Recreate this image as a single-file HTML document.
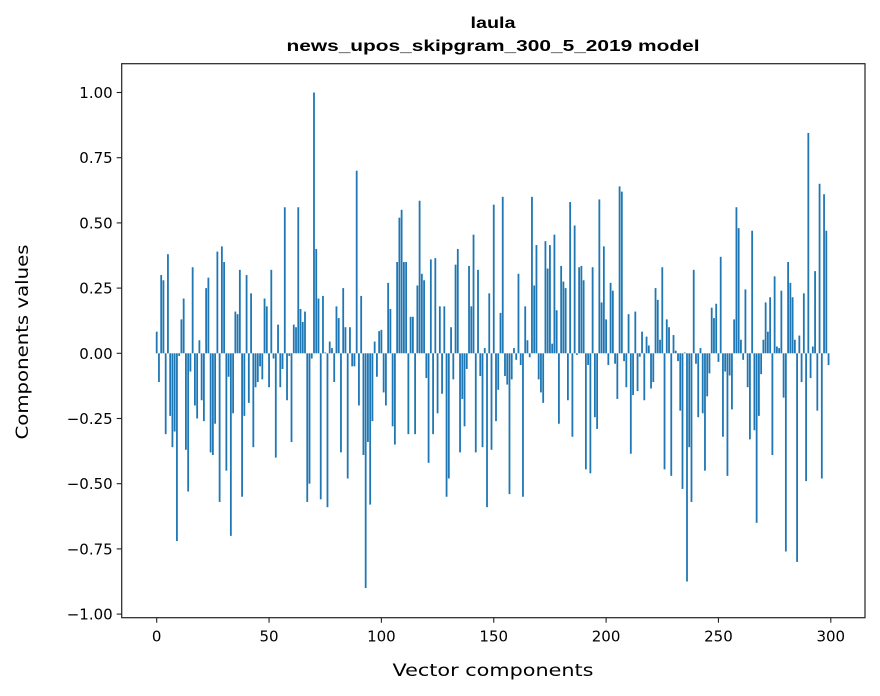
<!DOCTYPE html>
<html><head><meta charset="utf-8">
<style>
html,body{margin:0;padding:0;background:#fff;}
svg{display:block;font-family:"DejaVu Sans","Liberation Sans",sans-serif;}
</style></head>
<body>
<svg id="chart" width="880" height="696" viewBox="0 0 880 696" xmlns="http://www.w3.org/2000/svg">
<rect width="880" height="696" fill="#fff"/>
<text x="493" y="28" text-anchor="middle" font-size="16" font-weight="bold" font-family="Liberation Sans, sans-serif" textLength="45" lengthAdjust="spacingAndGlyphs">laula</text>
<text x="493" y="51" text-anchor="middle" font-size="16" font-weight="bold" font-family="Liberation Sans, sans-serif" textLength="413" lengthAdjust="spacingAndGlyphs">news_upos_skipgram_300_5_2019 model</text>
<g id="bars"></g>
<g id="axes"></g>
<text x="493" y="676" text-anchor="middle" font-size="17" textLength="201" lengthAdjust="spacingAndGlyphs">Vector components</text>
<text transform="translate(28,342) rotate(-90)" text-anchor="middle" font-size="17" textLength="195" lengthAdjust="spacingAndGlyphs">Components values</text>
</svg>
<script>
const values = [
0.083,-0.11,0.30,0.28,-0.31,0.38,-0.24,-0.36,-0.30,-0.72,-0.01,0.13,0.21,-0.37,-0.53,-0.07,0.33,-0.20,-0.25,0.05,
-0.18,-0.26,0.25,0.29,-0.38,-0.39,-0.27,0.39,-0.57,0.41,0.35,-0.45,-0.09,-0.70,-0.23,0.16,0.15,0.32,-0.55,-0.24,
0.30,-0.19,0.23,-0.36,-0.13,-0.11,-0.05,-0.10,0.21,0.18,-0.13,0.32,-0.02,-0.40,0.11,-0.13,-0.06,0.56,-0.18,-0.01,
-0.34,0.11,0.10,0.56,0.17,0.12,0.16,-0.57,-0.50,-0.02,1.00,0.40,0.21,-0.56,0.22,0.003,-0.59,0.045,0.02,-0.11,
0.18,0.135,-0.38,0.25,0.10,-0.48,0.10,-0.05,-0.05,0.70,-0.20,0.22,-0.39,-0.90,-0.34,-0.58,-0.26,0.045,-0.09,0.085,
0.09,-0.15,-0.20,0.27,0.17,-0.28,-0.35,0.35,0.52,0.55,0.35,0.35,-0.31,0.14,0.14,-0.31,0.26,0.585,0.305,0.28,
-0.095,-0.42,0.36,-0.31,0.365,-0.23,0.18,-0.155,0.18,-0.55,-0.48,0.10,-0.10,0.34,0.40,-0.38,-0.175,-0.28,-0.06,0.335,
0.18,0.455,-0.38,0.32,-0.087,-0.36,0.02,-0.59,0.23,-0.37,0.57,-0.26,-0.14,0.155,0.60,-0.087,-0.12,-0.54,-0.10,0.02,
-0.025,0.305,-0.045,-0.55,0.18,0.05,-0.015,0.60,0.26,0.415,-0.10,-0.15,-0.19,0.43,0.325,0.415,0.037,0.455,0.165,-0.27,
0.335,0.275,0.25,-0.18,0.58,-0.32,0.49,-0.006,0.33,0.335,0.28,-0.445,-0.045,-0.46,0.33,-0.245,-0.29,0.59,0.195,0.41,
0.13,-0.045,0.27,0.24,-0.04,-0.175,0.64,0.62,-0.03,-0.13,0.15,-0.385,-0.16,0.16,-0.145,-0.013,0.083,-0.18,0.064,0.03,
-0.135,-0.11,0.25,0.205,0.052,0.33,-0.445,0.13,0.10,-0.47,0.07,0.01,-0.03,-0.22,-0.52,0.003,-0.875,-0.36,-0.57,0.32,
-0.04,-0.245,0.02,-0.23,-0.45,-0.165,-0.077,0.175,0.135,0.19,-0.033,0.37,-0.32,-0.07,-0.47,-0.085,-0.215,0.13,0.56,0.48,
0.052,-0.025,0.245,-0.13,-0.33,0.47,-0.295,-0.65,-0.24,-0.08,0.052,0.195,0.083,0.215,-0.39,0.295,0.026,0.02,0.24,-0.17,
-0.76,0.35,0.27,0.215,0.052,-0.80,0.068,-0.11,0.23,-0.49,0.845,-0.095,0.026,0.315,-0.22,0.65,-0.48,0.61,0.47,-0.045
];
const xTicks = [0,50,100,150,200,250,300];
const yTicks = [-1.00,-0.75,-0.50,-0.25,0.00,0.25,0.50,0.75,1.00];

const L=121.7, R=865, T=63.7, B=617.7;
const x0px=156.7, xPerUnit=2.247;
const y0px=353.3, yPerUnit=260.8;
function xs(v){return x0px+v*xPerUnit;}
function ys(v){return y0px-v*yPerUnit;}
const NS="http://www.w3.org/2000/svg";
const bars=document.getElementById('bars');
const bw=0.8*xPerUnit;
values.forEach((v,i)=>{
  const r=document.createElementNS(NS,'rect');
  
  
  const ya=ys(Math.max(v,0)), yb=ys(Math.min(v,0));
  r.setAttribute('x',xs(i)-bw/2);
  r.setAttribute('y',ya);
  r.setAttribute('width',bw);
  r.setAttribute('height',Math.max(yb-ya,0.3));
  r.setAttribute('fill','#1f77b4');
  bars.appendChild(r);
});
const axes=document.getElementById('axes');
const frame=document.createElementNS(NS,'rect');


frame.setAttribute('x',L);frame.setAttribute('y',T);
frame.setAttribute('width',R-L);frame.setAttribute('height',B-T);
frame.setAttribute('fill','none');frame.setAttribute('stroke','#222');frame.setAttribute('stroke-width','1.2');
axes.appendChild(frame);
xTicks.forEach(t=>{
  const ln=document.createElementNS(NS,'line');
  
  
  ln.setAttribute('x1',xs(t));ln.setAttribute('x2',xs(t));
  ln.setAttribute('y1',B);ln.setAttribute('y2',B+5);
  ln.setAttribute('stroke','#222');ln.setAttribute('stroke-width','1.1');
  axes.appendChild(ln);
  const tx=document.createElementNS(NS,'text');
  
  
  tx.setAttribute('x',xs(t));tx.setAttribute('y',B+24);
  tx.setAttribute('text-anchor','middle');tx.setAttribute('font-size','15');
  tx.textContent=String(t);
  axes.appendChild(tx);
});
yTicks.forEach(t=>{
  const ln=document.createElementNS(NS,'line');
  
  
  ln.setAttribute('x1',L-5);ln.setAttribute('x2',L);
  ln.setAttribute('y1',ys(t));ln.setAttribute('y2',ys(t));
  ln.setAttribute('stroke','#222');ln.setAttribute('stroke-width','1.1');
  axes.appendChild(ln);
  const tx=document.createElementNS(NS,'text');
  
  
  tx.setAttribute('x',L-9);tx.setAttribute('y',ys(t)+5.5);
  tx.setAttribute('text-anchor','end');tx.setAttribute('font-size','15');
  tx.textContent=(t<0?'\u2212':'')+Math.abs(t).toFixed(2);
  axes.appendChild(tx);
});
</script>
</body></html>
